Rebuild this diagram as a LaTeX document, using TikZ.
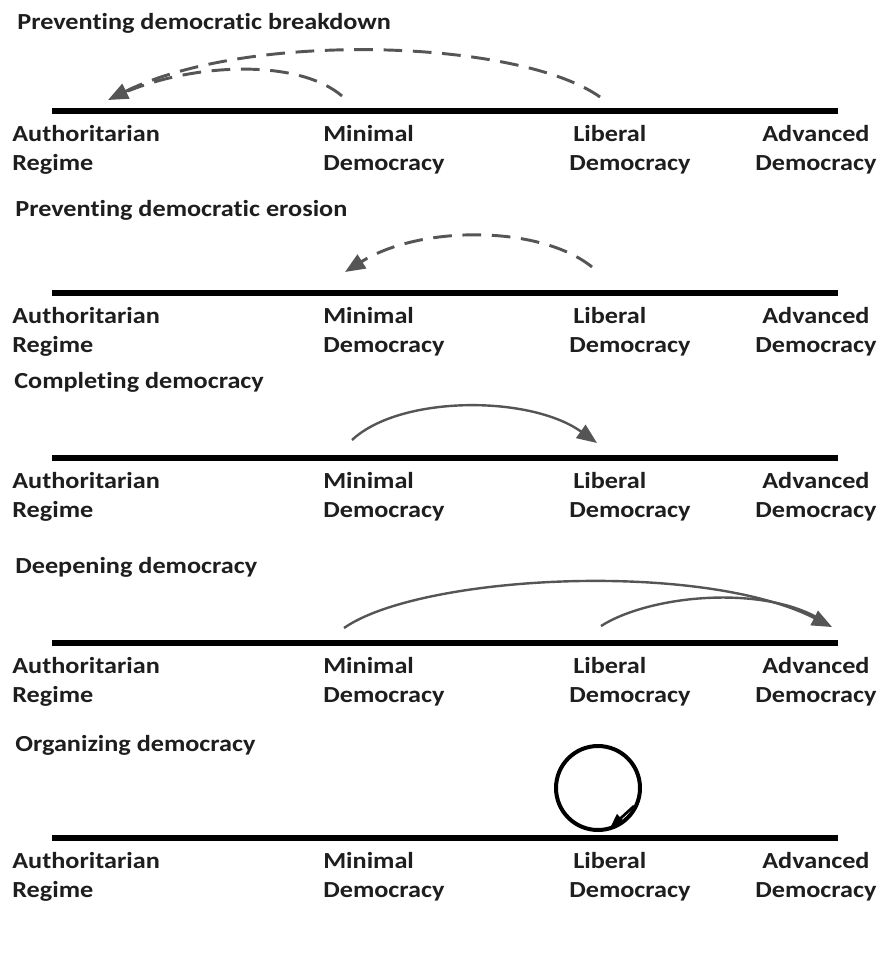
\documentclass[tikz,border=0pt]{standalone}
\usepackage{fontspec}
\setmainfont{Carlito}[Ligatures=NoCommon]
\usetikzlibrary{arrows.meta}
\newcommand{\lblfont}{\fontsize{17.25}{20}\selectfont\bfseries}
\definecolor{ink}{HTML}{1E1E1E}
\definecolor{arc}{HTML}{555555}
\tikzset{
  lbl/.style={anchor=base west, inner sep=0pt, font=\lblfont, text=ink, xscale=1.14, transform shape},
  axis/.style={line width=3.8pt, black},
  dasharc/.style={arc, line width=2.2pt, dash pattern=on 14pt off 8pt, -{Triangle[length=15pt,width=12pt]}},
  dashplain/.style={arc, line width=2.2pt, dash pattern=on 14pt off 8pt},
  solidarc/.style={arc, line width=1.8pt, -{Triangle[length=15pt,width=12pt]}},
  solidplain/.style={arc, line width=1.8pt},
}
\begin{document}
\begin{tikzpicture}[x=0.75pt,y=-0.75pt]
\useasboundingbox (0,0) rectangle (879,971);
\fill[white] (0,0) rectangle (879,971);

% ---------- reusable panel ----------
\foreach \ly/\ty/\tx/\tt/\pn in {111/29/17/Preventing democratic breakdown/1,
                                 293/216/15/Preventing democratic erosion/2,
                                 458/388/14/Completing democracy/3,
                                 643/573/15/Deepening democracy/4,
                                 838/751/15/Organizing democracy/5}{
  \node[lbl] (title\pn) at (\tx,\ty) {\tt};
  \coordinate (ls\pn) at (52,\ly);
  \coordinate (le\pn) at (838,\ly);
  \draw[axis] (ls\pn) -- (le\pn);
  \node[lbl] (auth\pn) at (12,\ly+30) {Authoritarian};
  \node[lbl] (reg\pn) at (12,\ly+59) {Regime};
  \node[lbl] (min\pn) at (323,\ly+30) {Minimal};
  \node[lbl] (mind\pn) at (323,\ly+59) {Democracy};
  \node[lbl] (lib\pn) at (573,\ly+30) {Liberal};
  \node[lbl] (libd\pn) at (569,\ly+59) {Democracy};
  \node[lbl] (adv\pn) at (762,\ly+30) {Advanced};
  \node[lbl] (advd\pn) at (755,\ly+59) {Democracy};
}

% ---------- panel 1 ----------
\coordinate (p1a) at (600,97);
\coordinate (p1b) at (342,96);
\coordinate (p1t) at (108,100);
\draw[dasharc] (p1a) .. controls (520,40) and (250,30) .. (p1t);
\draw[dashplain] (p1b) .. controls (300,60) and (200,62) .. (128,91);

% ---------- panel 2 ----------
\coordinate (p2a) at (592,267);
\coordinate (p2t) at (345,272);
\draw[dasharc] (p2a) .. controls (540,225) and (420,225) .. (p2t);

% ---------- panel 3 ----------
\coordinate (p3a) at (352,440);
\coordinate (p3t) at (597,443);
\draw[solidarc] (p3a) .. controls (400,395) and (530,395) .. (p3t);

% ---------- panel 4 ----------
\coordinate (p4a) at (344,628);
\coordinate (p4b) at (601,626);
\coordinate (p4t) at (832,627);
\draw[solidarc] (p4a) .. controls (420,575) and (700,560) .. (p4t);
\draw[solidplain] (p4b) .. controls (650,595) and (760,585) .. (818,618);

% ---------- panel 5 ----------
\coordinate (p5c) at (598,788);
\draw[black, line width=3pt] (p5c) circle[radius=42];
\coordinate (p5h) at (634,806);
\coordinate (p5t) at (610,828);
\draw[black, line width=2pt, -{Triangle[length=11pt,width=8pt]}] (p5h) -- (p5t);
\end{tikzpicture}
\end{document}
